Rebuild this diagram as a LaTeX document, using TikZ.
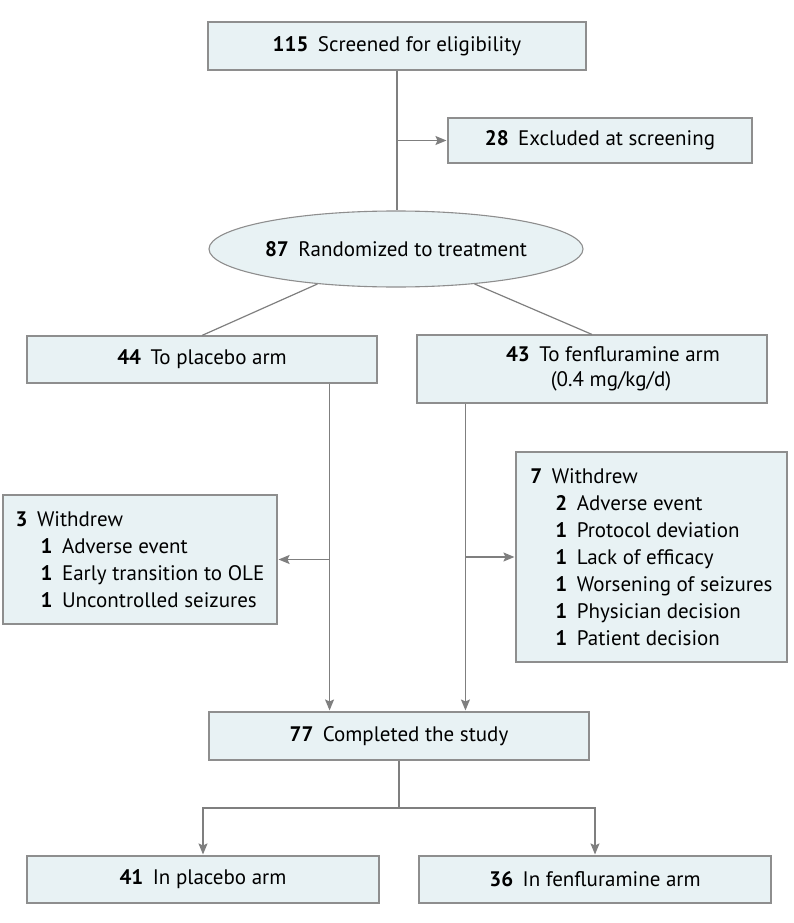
\documentclass[tikz,border=0pt]{standalone}
\usepackage{fontspec}
\setmainfont{PT Sans}
\usepackage{xcolor}
\usepackage{tikz}
\usetikzlibrary{shapes.geometric,arrows.meta,positioning,calc}

\definecolor{boxfill}{HTML}{E8F2F4}
\definecolor{boxline}{HTML}{8E8E8E}
\definecolor{linkgray}{HTML}{7F7F7F}

\newcommand{\cnt}[1]{\textbf{#1}\hspace{0.45em}}
\newcommand{\subcnt}[1]{\hspace*{25pt}\cnt{#1}}

\begin{document}
\begin{tikzpicture}[x=1pt,y=-1pt,
    box/.style={draw=boxline, fill=boxfill, line width=1.1pt, inner sep=0pt,
        minimum height=47pt, font=\fontsize{21}{25}\selectfont},
    listbox/.style={box, align=left, font=\fontsize{21}{27}\selectfont},
    link/.style={draw=linkgray, line width=1.2pt},
    arr/.style={link, -{Stealth[length=11pt,width=9pt,inset=2pt]}, shorten >=1pt}]
    \useasboundingbox (0,0) rectangle (794,923);

    % Enrollment
    \node[box, minimum width=378pt, minimum height=48pt] (screen) at (397,46) {\cnt{115}Screened for eligibility};
    \node[box, minimum width=304pt, minimum height=45pt] (excl) at (600,140.5) {\cnt{28}Excluded at screening};
    \node[box, ellipse, minimum width=374pt, minimum height=76pt] (rand) at (396,249) {\cnt{87}Randomized to treatment};

    % Arms
    \node[box, minimum width=350pt] (plac) at (202,359.5) {\cnt{44}To placebo arm};
    \node[box, minimum width=350pt, minimum height=68pt, align=center] (fenf) at (592,369)
        {\hspace*{42pt}\cnt{43}To fenfluramine arm\\\hspace*{38pt}(0.4 mg/kg/d)};

    % Withdrawals
    \node[listbox, minimum width=274pt, minimum height=129pt] (wdplac) at (140,559.5)
        {\cnt{3}Withdrew\\ \subcnt{1}Adverse event\\ \subcnt{1}Early transition to OLE\\ \subcnt{1}Uncontrolled seizures};
    \node[listbox, minimum width=271pt, minimum height=210pt] (wdfenf) at (651.5,557)
        {\cnt{7}Withdrew\\ \subcnt{2}Adverse event\\ \subcnt{1}Protocol deviation\\ \subcnt{1}Lack of efficacy\\
         \subcnt{1}Worsening of seizures\\ \subcnt{1}Physician decision\\ \subcnt{1}Patient decision};

    % Completion
    \node[box, minimum width=380pt, minimum height=48pt] (done) at (399,736) {\cnt{77}Completed the study};
    \node[box, minimum width=352pt] (endplac) at (203,879.5) {\cnt{41}In placebo arm};
    \node[box, minimum width=352pt] (endfenf) at (595,879.5) {\cnt{36}In fenfluramine arm};

    % Connectors
    \draw[link] (screen.south) -- (screen.south |- rand.north);
    \draw[arr] (screen.south |- excl.west) -- (excl.west);
    \draw[link] (rand.204) -- (plac.north);
    \draw[link] (rand.336) -- (fenf.north);

    \coordinate (plout) at ([xshift=-48pt]plac.south east);
    \draw[arr] (plout) -- (plout |- done.north);
    \draw[arr] (plout |- wdplac.east) -- (wdplac.east);

    \coordinate (fnout) at ([xshift=49pt]fenf.south west);
    \draw[arr] (fnout) -- (fnout |- done.north);
    \draw[arr] (fnout |- wdfenf.west) -- (wdfenf.west);

    \coordinate (split) at (399,808);
    \draw[link] (done.south) -- (split);
    \draw[arr] (split) -| (endplac.north);
    \draw[arr] (split) -| (endfenf.north);
\end{tikzpicture}
\end{document}
